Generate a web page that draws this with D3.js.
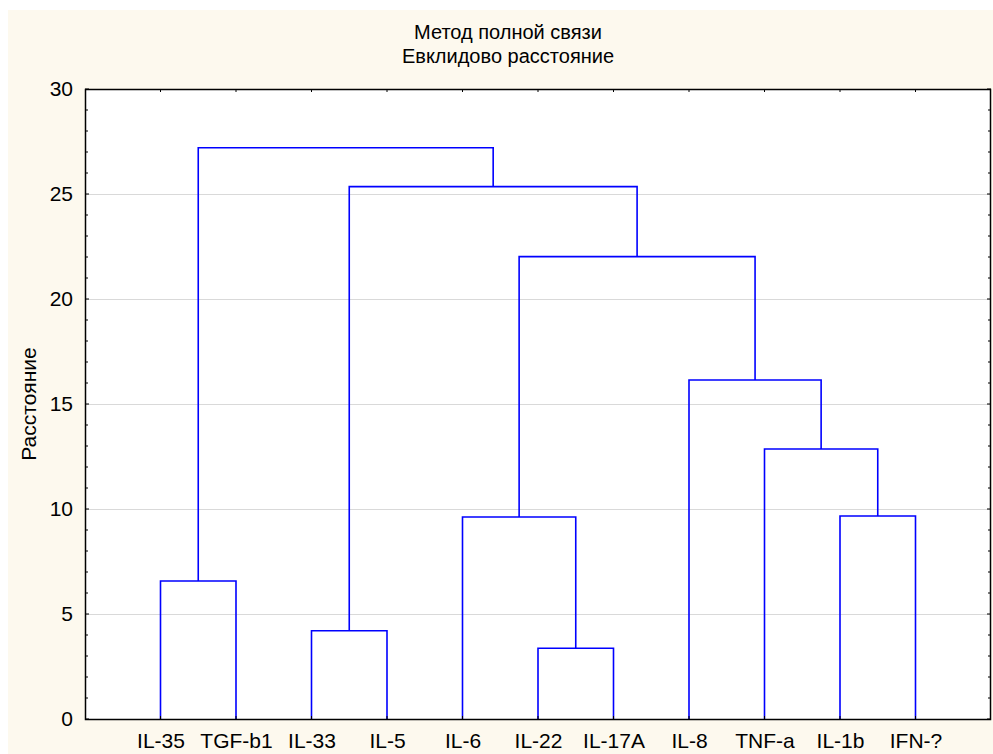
<!DOCTYPE html>
<html>
<head>
<meta charset="utf-8">
<script src="https://cdn.jsdelivr.net/npm/d3@7"></script>
<style>
  body { margin: 0; background: #fff; }
  text { font-family: "Liberation Sans", Arial, sans-serif; fill: #000; }
</style>
</head>
<body>
<script>
// leaf labels, left to right
const leaves = ["IL-35", "TGF-b1", "IL-33", "IL-5", "IL-6", "IL-22", "IL-17A", "IL-8", "TNF-a", "IL-1b", "IFN-?"];

// linkage: [a, b, distance]; ids < leaves.length are leaves, others are earlier merges
const merges = [
  [0, 1, 6.57],
  [2, 3, 4.2],
  [5, 6, 3.37],
  [4, 13, 9.62],
  [9, 10, 9.67],
  [8, 15, 12.86],
  [7, 16, 16.14],
  [14, 17, 22.02],
  [12, 18, 25.35],
  [11, 19, 27.2]
];

const yTicks = [0, 5, 10, 15, 20, 25, 30];
const titles = ["Метод полной связи", "Евклидово расстояние"];
const yLabel = "Расстояние";

const width = 993, height = 754;
const margin = { top: 89, right: 2, bottom: 35, left: 85 };
const fs = "21px";

const x = d3.scaleLinear()
  .domain([0, leaves.length + 1])
  .range([margin.left, width - margin.right]);

const y = d3.scaleLinear()
  .domain([0, 30])
  .range([height - margin.bottom, margin.top]);

const svg = d3.select("body").append("svg")
  .attr("width", width)
  .attr("height", height);

// cream background
svg.append("rect")
  .attr("x", 8).attr("y", 10)
  .attr("width", width - 8).attr("height", height - 10)
  .attr("fill", "#fdf9ee");

svg.append("rect")
  .attr("x", x(0)).attr("y", y(30))
  .attr("width", x(12) - x(0)).attr("height", y(0) - y(30))
  .attr("fill", "#fff");

// grid
svg.append("g")
  .selectAll("line")
  .data(yTicks.filter(d => d > 0 && d < 30))
  .join("line")
  .attr("x1", x(0)).attr("x2", x(12))
  .attr("y1", d => Math.round(y(d)) + 0.5).attr("y2", d => Math.round(y(d)) + 0.5)
  .attr("stroke", "#d9d9d9");

// node positions
const pos = leaves.map((d, i) => ({ x: x(i + 1), h: 0 }));
const links = [];
merges.forEach(([a, b, h]) => {
  const A = pos[a], B = pos[b];
  links.push({ a: A, b: B, h });
  pos.push({ x: (A.x + B.x) / 2, h });
});

svg.append("g")
  .attr("fill", "none")
  .attr("stroke", "#0000ff")
  .attr("stroke-width", 1.6)
  .selectAll("path")
  .data(links)
  .join("path")
  .attr("d", d => `M${d.a.x},${y(d.a.h)}V${y(d.h)}H${d.b.x}V${y(d.b.h)}`);

// axes (ticks inward)
const minor = d3.range(0, 31);
const yAxisL = svg.append("g").attr("transform", `translate(${x(0)},0)`);
yAxisL.call(d3.axisLeft(y).tickValues(yTicks).tickSize(0).tickPadding(12))
  .call(g => g.select(".domain").remove())
  .call(g => g.selectAll("text").style("font-size", fs).attr("font-family", null));
yAxisL.selectAll(".minor").data(minor).join("line").attr("class", "minor")
  .attr("x1", 0).attr("x2", d => d % 5 === 0 ? 4 : 3)
  .attr("y1", d => y(d)).attr("y2", d => y(d)).attr("stroke", "#000");

const yAxisR = svg.append("g").attr("transform", `translate(${x(12)},0)`);
yAxisR.selectAll(".minor").data(minor).join("line").attr("class", "minor")
  .attr("x1", 0).attr("x2", d => d % 5 === 0 ? -4 : -3)
  .attr("y1", d => y(d)).attr("y2", d => y(d)).attr("stroke", "#000");

const xAxisB = svg.append("g").attr("transform", `translate(0,${y(0)})`);
xAxisB.call(d3.axisBottom(x).tickValues(d3.range(1, leaves.length + 1))
    .tickFormat(i => leaves[i - 1]).tickSize(0).tickPadding(14))
  .call(g => g.select(".domain").remove())
  .call(g => g.selectAll("text").style("font-size", fs).attr("font-family", null));
xAxisB.selectAll(".minor").data(d3.range(1, leaves.length + 1)).join("line").attr("class", "minor")
  .attr("x1", d => x(d)).attr("x2", d => x(d)).attr("y1", 0).attr("y2", -3).attr("stroke", "#000");

const xAxisT = svg.append("g").attr("transform", `translate(0,${y(30)})`);
xAxisT.selectAll(".minor").data(d3.range(1, leaves.length + 1)).join("line").attr("class", "minor")
  .attr("x1", d => x(d)).attr("x2", d => x(d)).attr("y1", 0).attr("y2", 3).attr("stroke", "#000");

// frame
svg.append("rect")
  .attr("x", x(0) + 0.5).attr("y", y(30) + 0.5)
  .attr("width", x(12) - x(0) - 1).attr("height", y(0) - y(30))
  .attr("fill", "none").attr("stroke", "#000").attr("stroke-width", 1.5);

// titles
svg.append("g")
  .selectAll("text")
  .data(titles)
  .join("text")
  .attr("x", 508)
  .attr("y", (d, i) => 39 + i * 24)
  .attr("text-anchor", "middle")
  .style("font-size", "20px")
  .text(d => d);

svg.append("text")
  .attr("transform", `translate(36,${(y(0) + y(30)) / 2}) rotate(-90)`)
  .attr("text-anchor", "middle")
  .style("font-size", fs)
  .text(yLabel);
</script>
</body>
</html>
